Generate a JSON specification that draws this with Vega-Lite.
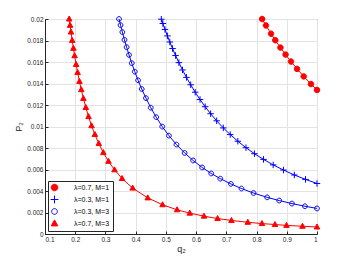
{
  "$schema": "https://vega.github.io/schema/vega-lite/v6.json",
  "width": 272,
  "height": 215,
  "autosize": "none",
  "padding": {"left": 45, "top": 19, "right": 33, "bottom": 29},
  "background": "white",
  "config": {
    "view": {"stroke": "#262626", "strokeWidth": 1},
    "axis": {
      "labelFont": "Liberation Sans", "labelFontSize": 6.5, "labelColor": "#262626",
      "titleFont": "Liberation Sans", "titleFontSize": 9, "titleColor": "#262626", "titleFontWeight": "normal",
      "domainColor": "#262626", "tickColor": "#262626", "gridColor": "#e3e3e3", "gridWidth": 1
    }
  },
  "data": {"values": [
    {"series": "λ=0.7, M=1", "q": 0.8185, "P": 0.0200},
    {"series": "λ=0.7, M=1", "q": 0.831, "P": 0.01940},
    {"series": "λ=0.7, M=1", "q": 0.848, "P": 0.01863},
    {"series": "λ=0.7, M=1", "q": 0.862, "P": 0.01803},
    {"series": "λ=0.7, M=1", "q": 0.879, "P": 0.01734},
    {"series": "λ=0.7, M=1", "q": 0.896, "P": 0.01669},
    {"series": "λ=0.7, M=1", "q": 0.914, "P": 0.01604},
    {"series": "λ=0.7, M=1", "q": 0.934, "P": 0.01536},
    {"series": "λ=0.7, M=1", "q": 0.956, "P": 0.01466},
    {"series": "λ=0.7, M=1", "q": 0.98, "P": 0.01395},
    {"series": "λ=0.7, M=1", "q": 1.0, "P": 0.0134},

    {"series": "λ=0.3, M=1", "q": 0.485, "P": 0.01998},
    {"series": "λ=0.3, M=1", "q": 0.49, "P": 0.01958},
    {"series": "λ=0.3, M=1", "q": 0.497, "P": 0.01903},
    {"series": "λ=0.3, M=1", "q": 0.505, "P": 0.01843},
    {"series": "λ=0.3, M=1", "q": 0.513, "P": 0.01786},
    {"series": "λ=0.3, M=1", "q": 0.522, "P": 0.01725},
    {"series": "λ=0.3, M=1", "q": 0.532, "P": 0.01661},
    {"series": "λ=0.3, M=1", "q": 0.543, "P": 0.01594},
    {"series": "λ=0.3, M=1", "q": 0.555, "P": 0.01526},
    {"series": "λ=0.3, M=1", "q": 0.568, "P": 0.01457},
    {"series": "λ=0.3, M=1", "q": 0.582, "P": 0.01388},
    {"series": "λ=0.3, M=1", "q": 0.597, "P": 0.01319},
    {"series": "λ=0.3, M=1", "q": 0.613, "P": 0.01251},
    {"series": "λ=0.3, M=1", "q": 0.63, "P": 0.01184},
    {"series": "λ=0.3, M=1", "q": 0.648, "P": 0.01119},
    {"series": "λ=0.3, M=1", "q": 0.668, "P": 0.01053},
    {"series": "λ=0.3, M=1", "q": 0.69, "P": 0.00987},
    {"series": "λ=0.3, M=1", "q": 0.713, "P": 0.00925},
    {"series": "λ=0.3, M=1", "q": 0.738, "P": 0.00863},
    {"series": "λ=0.3, M=1", "q": 0.765, "P": 0.00803},
    {"series": "λ=0.3, M=1", "q": 0.793, "P": 0.00747},
    {"series": "λ=0.3, M=1", "q": 0.823, "P": 0.00694},
    {"series": "λ=0.3, M=1", "q": 0.855, "P": 0.00643},
    {"series": "λ=0.3, M=1", "q": 0.889, "P": 0.00595},
    {"series": "λ=0.3, M=1", "q": 0.925, "P": 0.00549},
    {"series": "λ=0.3, M=1", "q": 0.962, "P": 0.00508},
    {"series": "λ=0.3, M=1", "q": 1.0, "P": 0.0047},

    {"series": "λ=0.3, M=3", "q": 0.345, "P": 0.0200},
    {"series": "λ=0.3, M=3", "q": 0.35, "P": 0.01943},
    {"series": "λ=0.3, M=3", "q": 0.356, "P": 0.01878},
    {"series": "λ=0.3, M=3", "q": 0.363, "P": 0.01806},
    {"series": "λ=0.3, M=3", "q": 0.37, "P": 0.01738},
    {"series": "λ=0.3, M=3", "q": 0.378, "P": 0.01666},
    {"series": "λ=0.3, M=3", "q": 0.387, "P": 0.01589},
    {"series": "λ=0.3, M=3", "q": 0.397, "P": 0.01510},
    {"series": "λ=0.3, M=3", "q": 0.408, "P": 0.01430},
    {"series": "λ=0.3, M=3", "q": 0.42, "P": 0.01349},
    {"series": "λ=0.3, M=3", "q": 0.434, "P": 0.01264},
    {"series": "λ=0.3, M=3", "q": 0.45, "P": 0.01175},
    {"series": "λ=0.3, M=3", "q": 0.468, "P": 0.01087},
    {"series": "λ=0.3, M=3", "q": 0.488, "P": 0.00999},
    {"series": "λ=0.3, M=3", "q": 0.51, "P": 0.00915},
    {"series": "λ=0.3, M=3", "q": 0.535, "P": 0.00832},
    {"series": "λ=0.3, M=3", "q": 0.562, "P": 0.00754},
    {"series": "λ=0.3, M=3", "q": 0.59, "P": 0.00684},
    {"series": "λ=0.3, M=3", "q": 0.62, "P": 0.00619},
    {"series": "λ=0.3, M=3", "q": 0.65, "P": 0.00563},
    {"series": "λ=0.3, M=3", "q": 0.68, "P": 0.00515},
    {"series": "λ=0.3, M=3", "q": 0.715, "P": 0.00466},
    {"series": "λ=0.3, M=3", "q": 0.75, "P": 0.00423},
    {"series": "λ=0.3, M=3", "q": 0.79, "P": 0.00381},
    {"series": "λ=0.3, M=3", "q": 0.835, "P": 0.00341},
    {"series": "λ=0.3, M=3", "q": 0.875, "P": 0.00311},
    {"series": "λ=0.3, M=3", "q": 0.917, "P": 0.00283},
    {"series": "λ=0.3, M=3", "q": 0.96, "P": 0.00258},
    {"series": "λ=0.3, M=3", "q": 1.0, "P": 0.00238},

    {"series": "λ=0.7, M=3", "q": 0.18, "P": 0.0200},
    {"series": "λ=0.7, M=3", "q": 0.183, "P": 0.01941},
    {"series": "λ=0.7, M=3", "q": 0.186, "P": 0.01879},
    {"series": "λ=0.7, M=3", "q": 0.19, "P": 0.01801},
    {"series": "λ=0.7, M=3", "q": 0.194, "P": 0.01727},
    {"series": "λ=0.7, M=3", "q": 0.198, "P": 0.01658},
    {"series": "λ=0.7, M=3", "q": 0.203, "P": 0.01577},
    {"series": "λ=0.7, M=3", "q": 0.208, "P": 0.01502},
    {"series": "λ=0.7, M=3", "q": 0.214, "P": 0.01419},
    {"series": "λ=0.7, M=3", "q": 0.22, "P": 0.01343},
    {"series": "λ=0.7, M=3", "q": 0.227, "P": 0.01261},
    {"series": "λ=0.7, M=3", "q": 0.235, "P": 0.01177},
    {"series": "λ=0.7, M=3", "q": 0.244, "P": 0.01092},
    {"series": "λ=0.7, M=3", "q": 0.254, "P": 0.01007},
    {"series": "λ=0.7, M=3", "q": 0.265, "P": 0.00926},
    {"series": "λ=0.7, M=3", "q": 0.278, "P": 0.00841},
    {"series": "λ=0.7, M=3", "q": 0.293, "P": 0.00757},
    {"series": "λ=0.7, M=3", "q": 0.31, "P": 0.00676},
    {"series": "λ=0.7, M=3", "q": 0.33, "P": 0.00597},
    {"series": "λ=0.7, M=3", "q": 0.355, "P": 0.00516},
    {"series": "λ=0.7, M=3", "q": 0.39, "P": 0.00427},
    {"series": "λ=0.7, M=3", "q": 0.44, "P": 0.00336},
    {"series": "λ=0.7, M=3", "q": 0.489, "P": 0.00272},
    {"series": "λ=0.7, M=3", "q": 0.537, "P": 0.00225},
    {"series": "λ=0.7, M=3", "q": 0.579, "P": 0.00194},
    {"series": "λ=0.7, M=3", "q": 0.626, "P": 0.00166},
    {"series": "λ=0.7, M=3", "q": 0.671, "P": 0.00144},
    {"series": "λ=0.7, M=3", "q": 0.717, "P": 0.00126},
    {"series": "λ=0.7, M=3", "q": 0.771, "P": 0.00109},
    {"series": "λ=0.7, M=3", "q": 0.818, "P": 0.00097},
    {"series": "λ=0.7, M=3", "q": 0.861, "P": 0.00088},
    {"series": "λ=0.7, M=3", "q": 0.899, "P": 0.00080},
    {"series": "λ=0.7, M=3", "q": 0.952, "P": 0.00072},
    {"series": "λ=0.7, M=3", "q": 1.0, "P": 0.00065}
  ]},
  "encoding": {
    "x": {"field": "q", "type": "quantitative", "scale": {"domain": [0.1, 1], "nice": false},
          "axis": {"orient": "bottom", "title": "q₂", "titlePadding": 2, "grid": true, "tickSize": -3, "labelPadding": 5, "format": "~g", "values": [0.1,0.2,0.3,0.4,0.5,0.6,0.7,0.8,0.9,1]}},
    "y": {"field": "P", "type": "quantitative", "scale": {"domain": [0, 0.02], "nice": false},
          "axis": {"orient": "left", "title": "P₂", "titlePadding": 3, "grid": true, "tickSize": -3, "labelPadding": 5, "format": "~g", "values": [0,0.002,0.004,0.006,0.008,0.01,0.012,0.014,0.016,0.018,0.02]}}
  },
  "layer": [
    {
      "mark": {"type": "line", "strokeWidth": 1, "opacity": 1},
      "encoding": {
        "stroke": {"field": "series", "type": "nominal",
                   "scale": {"domain": ["λ=0.7, M=1", "λ=0.3, M=1", "λ=0.3, M=3", "λ=0.7, M=3"], "range": ["#ff0000", "#0000ff", "#0000ff", "#ff0000"]}}
      }
    },
    {
      "mark": {"type": "point", "size": 25, "strokeWidth": 1, "opacity": 1},
      "encoding": {
        "stroke": {"field": "series", "type": "nominal",
                   "legend": {
                     "title": null, "orient": "bottom-left", "offset": 3, "padding": 3, "rowPadding": 0,
                     "symbolSize": 36, "symbolStrokeWidth": 1, "labelOffset": 16,
                     "labelFont": "Liberation Sans", "labelFontSize": 7, "labelColor": "#000000", "labelLimit": 0,
                     "strokeColor": "#262626", "fillColor": "#ffffff",
                     "encode": {"symbols": {
                       "shape": {"condition": [
                         {"test": "datum.value === 'λ=0.7, M=1'", "value": "M-1.17,0L5.83,0M1.5,0A0.83,0.83 0 1,0 3.16,0A0.83,0.83 0 1,0 1.5,0Z"},
                         {"test": "datum.value === 'λ=0.3, M=1'", "value": "M-1.17,0L5.83,0M2.33,-1L2.33,1"},
                         {"test": "datum.value === 'λ=0.3, M=3'", "value": "M-1.17,0L5.83,0M1.56,0A0.77,0.77 0 1,0 3.1,0A0.77,0.77 0 1,0 1.56,0Z"}
                       ], "value": "M-1.17,0L5.83,0M2.33,-0.9L3.23,0.7L1.43,0.7Z"},
                       "fill": {"condition": {"test": "indexOf(datum.value, '0.7') >= 0", "value": "#ff0000"}, "value": "transparent"},
                       "stroke": {"condition": {"test": "indexOf(datum.value, '0.7') >= 0", "value": "#ff0000"}, "value": "#0000ff"}
                     }}
                   }},
        "fill": {"field": "series", "type": "nominal",
                 "scale": {"domain": ["λ=0.7, M=1", "λ=0.3, M=1", "λ=0.3, M=3", "λ=0.7, M=3"], "range": ["#ff0000", "transparent", "transparent", "#ff0000"]},
                 "legend": null},
        "shape": {"field": "series", "type": "nominal",
                  "scale": {"domain": ["λ=0.7, M=1", "λ=0.3, M=1", "λ=0.3, M=3", "λ=0.7, M=3"],
                            "range": ["M-1.1,0A1.1,1.1 0 1,0 1.1,0A1.1,1.1 0 1,0 -1.1,0Z", "M-1.3,0L1.3,0M0,-1.3L0,1.3", "M-0.95,0A0.95,0.95 0 1,0 0.95,0A0.95,0.95 0 1,0 -0.95,0Z", "M0,-1.2L1.1,0.8L-1.1,0.8Z"]},
                  "legend": null}
      }
    }
  ]
}
